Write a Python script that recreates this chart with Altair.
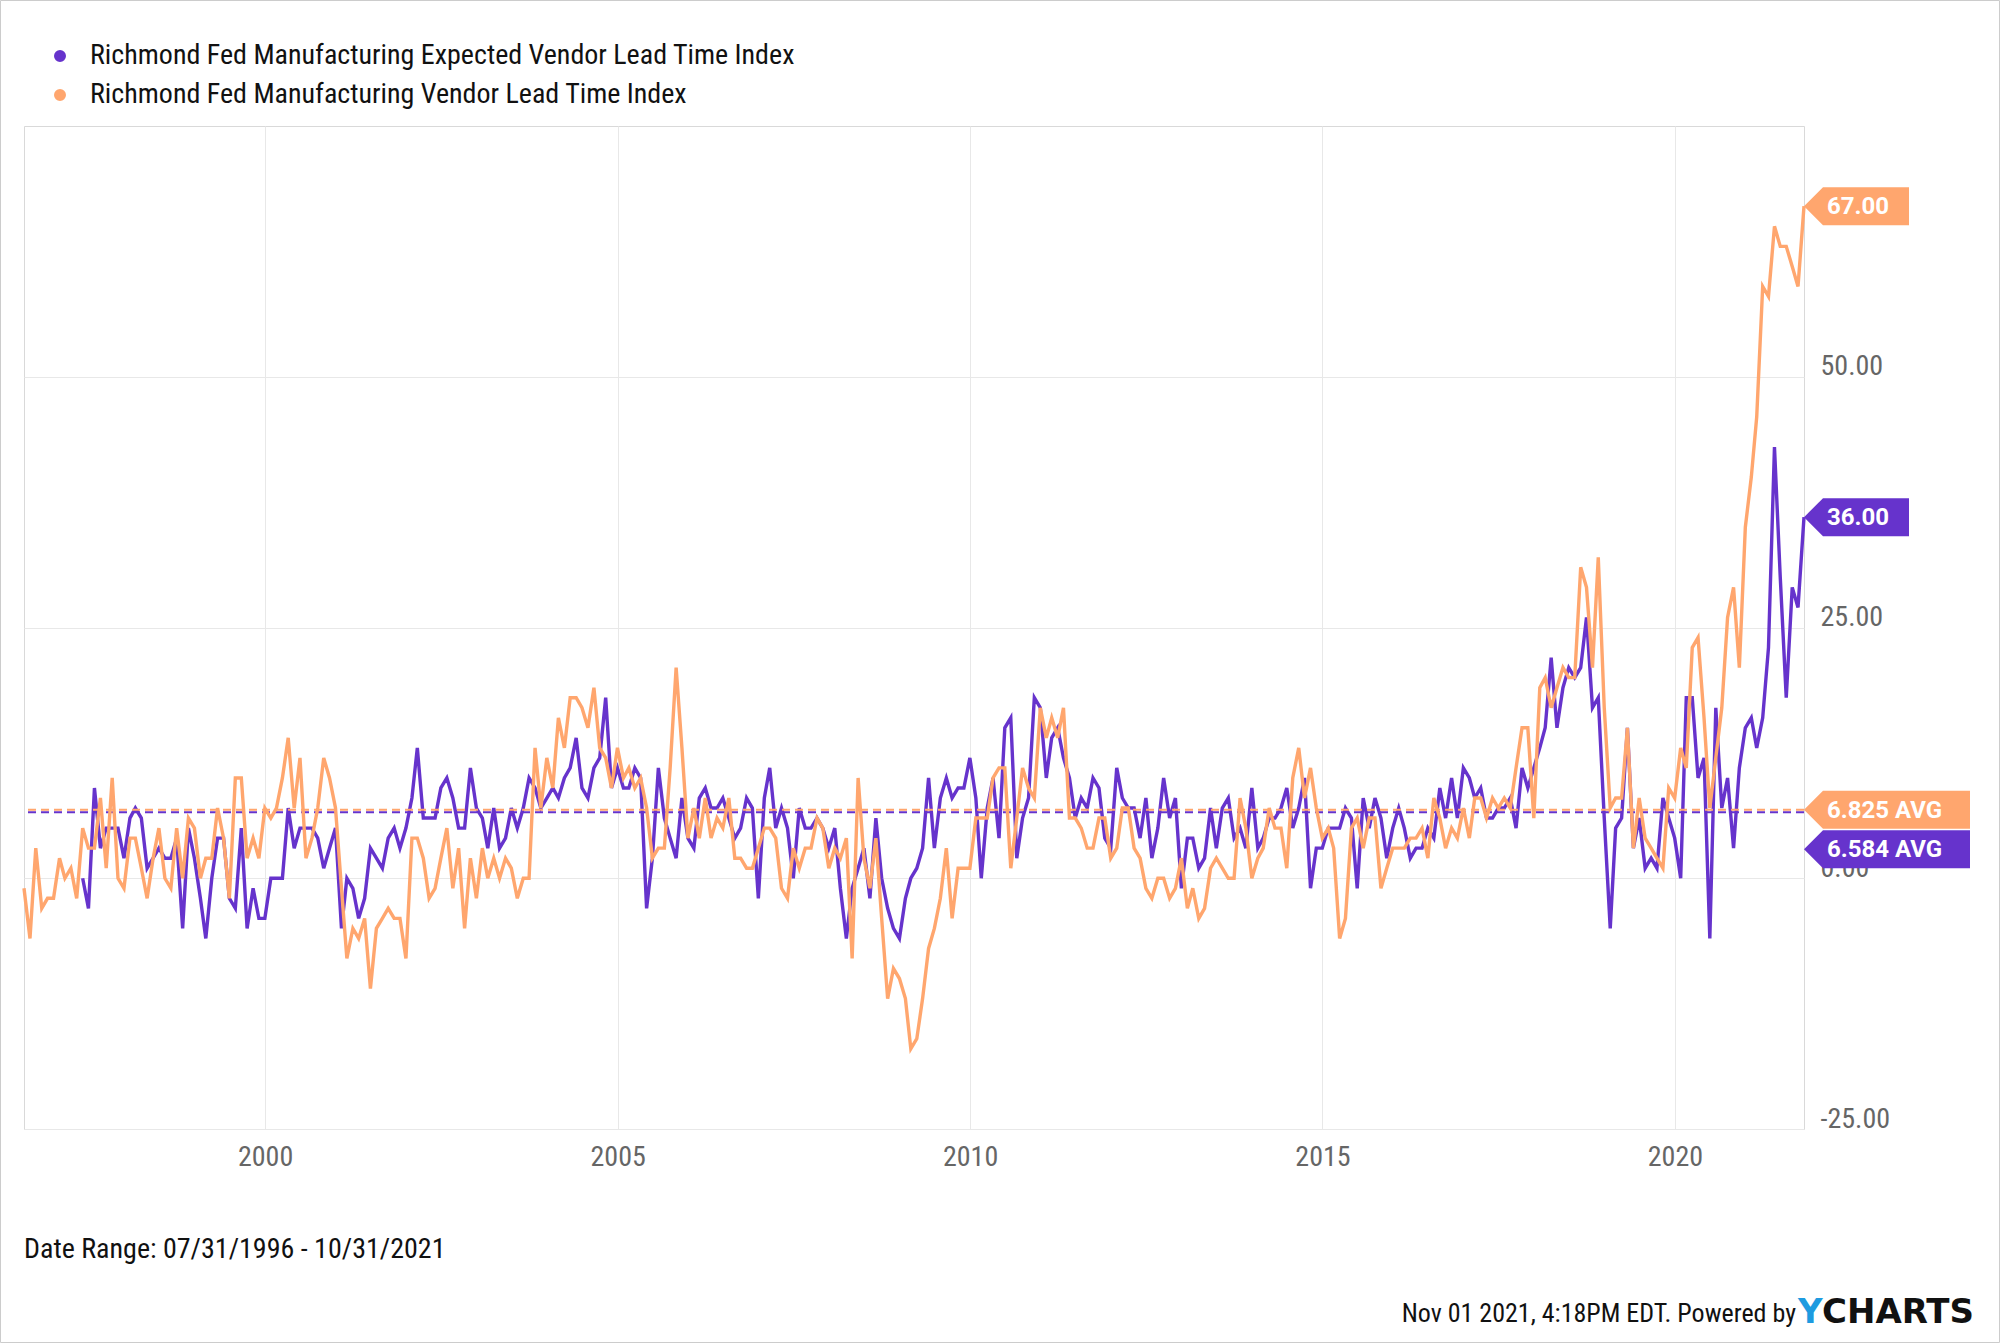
import altair as alt
import pandas as pd

EXP = "Richmond Fed Manufacturing Expected Vendor Lead Time Index"
VEN = "Richmond Fed Manufacturing Vendor Lead Time Index"
PURPLE = "#6633cc"
ORANGE = "#ffa66e"
COND = "Roboto Condensed, Liberation Sans Narrow, Arial Narrow, DejaVu Sans Condensed, sans-serif"

# monthly values, Jul 1996 .. Oct 2021
vendor_lead_time = [
    -1, -6, 3, -3, -2, -2, 2, 0, 1, -2, 5, 3,
    3, 8, 1, 10, 0, -1, 4, 4, 1, -2, 2, 5,
    0, -1, 5, 0, 6, 5, 0, 2, 2, 7, 4, -2,
    10, 10, 2, 4, 2, 7, 6, 7, 10, 14, 7, 12,
    2, 4, 7, 12, 10, 7, -1, -8, -5, -6, -4, -11,
    -5, -4, -3, -4, -4, -8, 4, 4, 2, -2, -1, 2,
    5, -1, 3, -5, 2, -2, 3, 0, 2, 0, 2, 1,
    -2, 0, 0, 13, 7, 12, 9, 16, 13, 18, 18, 17,
    15, 19, 13, 12, 9, 13, 10, 11, 9, 10, 7, 2,
    3, 3, 11, 21, 13, 4, 7, 4, 8, 4, 6, 5,
    8, 2, 2, 1, 1, 3, 5, 5, 4, -1, -2, 3,
    1, 3, 3, 6, 5, 1, 3, 2, 4, -8, 10, 2,
    -1, 4, -4, -12, -9, -10, -12, -17, -16, -12, -7, -5,
    -2, 3, -4, 1, 1, 1, 6, 6, 6, 10, 11, 11,
    1, 6, 11, 9, 8, 17, 14, 16, 14, 17, 6, 6,
    5, 3, 3, 6, 6, 2, 3, 7, 7, 3, 2, -1,
    -2, 0, 0, -2, -1, 2, -3, -1, -4, -3, 1, 2,
    1, 0, 0, 8, 5, 0, 2, 3, 7, 5, 5, 1,
    10, 13, 8, 11, 7, 4, 5, 3, -6, -4, 5, 6,
    3, 6, 6, -1, 1, 3, 3, 3, 4, 4, 5, 2,
    8, 6, 3, 5, 4, 7, 4, 8, 8, 6, 8, 7,
    8, 7, 11, 15, 15, 6, 19, 20, 17, 19, 21, 20,
    20, 31, 29, 21, 32, 17, 7, 8, 8, 15, 3, 8,
    4, 3, 2, 1, 9, 8, 13, 11, 23, 24, 16, 7,
    12, 17, 26, 29, 21, 35, 40, 46, 59, 58, 65, 63,
    63, 61, 59, 67,
]

# monthly values, May 1997 .. Oct 2021
expected_lead_time = [
    0, -3,
    9, 3, 5, 5, 5, 2, 6, 7, 6, 1, 2, 3,
    2, 2, 4, -5, 5, 2, -2, -6, 0, 4, 4, -2,
    -3, 5, -5, -1, -4, -4, 0, 0, 0, 7, 3, 5,
    5, 5, 4, 1, 3, 5, -5, 0, -1, -4, -2, 3,
    2, 1, 4, 5, 3, 5, 8, 13, 6, 6, 6, 9,
    10, 8, 5, 5, 11, 7, 6, 3, 7, 3, 4, 7,
    5, 7, 10, 9, 7, 8, 9, 8, 10, 11, 14, 9,
    8, 11, 12, 18, 9, 11, 9, 9, 11, 10, -3, 2,
    11, 6, 4, 2, 8, 4, 3, 8, 9, 7, 7, 8,
    6, 4, 5, 8, 7, -2, 8, 11, 5, 7, 5, 0,
    7, 5, 5, 6, 5, 3, 5, -1, -6, -1, 1, 3,
    -2, 6, 0, -3, -5, -6, -2, 0, 1, 3, 10, 3,
    8, 10, 8, 9, 9, 12, 8, 0, 7, 10, 4, 15,
    16, 2, 6, 8, 18, 17, 10, 14, 15, 12, 10, 6,
    8, 7, 10, 9, 4, 3, 11, 8, 7, 7, 4, 8,
    2, 5, 10, 6, 8, -1, 4, 4, 1, 2, 7, 3,
    7, 8, 4, 5, 3, 9, 3, 4, 6, 6, 7, 9,
    5, 7, 10, -1, 3, 3, 5, 5, 5, 7, 6, -1,
    8, 5, 8, 6, 2, 5, 7, 5, 2, 3, 3, 5,
    4, 9, 6, 10, 6, 11, 10, 8, 9, 6, 6, 7,
    7, 8, 5, 11, 9, 11, 13, 15, 22, 15, 19, 21,
    20, 21, 26, 17, 18, 6, -5, 5, 6, 15, 3, 6,
    1, 2, 1, 8, 6, 4, 0, 18, 18, 10, 12, -6,
    17, 7, 10, 3, 11, 15, 16, 13, 16, 23, 43, 30,
    18, 29, 27, 36,
]

series_names = [EXP, VEN]
series_colors = [PURPLE, ORANGE]
avg_values = [6.584, 6.825]  # expected, vendor
year_ticks = [2000, 2005, 2010, 2015, 2020]
y_ticks = [-25, 0, 25, 50]
date_range_text = "Date Range: 07/31/1996 - 10/31/2021"
footer_text = "Nov 01 2021, 4:18PM EDT. Powered by"

W, H = 1780, 1003

dates = pd.date_range("1996-07-31", periods=len(vendor_lead_time), freq=pd.offsets.MonthEnd())
off = len(vendor_lead_time) - len(expected_lead_time)
exp_df = pd.DataFrame({"date": dates[off:], "value": expected_lead_time, "series": EXP})
ven_df = pd.DataFrame({"date": dates, "value": vendor_lead_time, "series": VEN})

one = pd.DataFrame({"a": [0]})

color_scale = alt.Scale(domain=series_names, range=series_colors)

x_enc = alt.X(
    "date:T",
    scale=alt.Scale(domain=[alt.DateTime(year=1996, month=7, date=31),
                            alt.DateTime(year=2021, month=10, date=31)]),
    axis=alt.Axis(values=[alt.DateTime(year=y, month=1, date=1) for y in year_ticks],
                  format="%Y", title=None, labelPadding=14, labelFontSize=28,
                  labelFont=COND, labelColor="#666666", grid=True, gridColor="#e8e8e8",
                  domain=False, ticks=False),
)
y_enc = alt.Y(
    "value:Q",
    scale=alt.Scale(domain=[-25, 75], nice=False, zero=False),
    axis=alt.Axis(values=y_ticks, orient="right", title=None,
                  labelExpr="datum.value < 0 ? '-' + format(-datum.value, '.2f') : format(datum.value, '.2f')",
                  labelAlign="left", labelPadding=16, labelBaseline="alphabetic",
                  labelOffset=-2, labelFontSize=28, labelFont=COND,
                  labelColor="#666666", grid=True, gridColor="#e8e8e8",
                  domain=False, ticks=False),
)

# legend dot: concentric rings that the symbol stroke fills into a solid disc
def _ring(r):
    return f"M {-r} 0 A {r} {r} 0 1 0 {r} 0 A {r} {r} 0 1 0 {-r} 0 Z"

DOT = " ".join(_ring(r) for r in [1, 0.8, 0.6, 0.4, 0.2])

legend = alt.Legend(
    title=None, orient="none", legendX=22, legendY=-84, symbolType=DOT,
    symbolSize=100, symbolStrokeWidth=2, labelFontSize=28, labelFont=COND,
    labelColor="#111111", labelOffset=16, rowPadding=11, padding=0,
    labelLimit=1000,
)

purple_line = alt.Chart(exp_df).mark_line(strokeWidth=3.4).encode(
    x=x_enc, y=y_enc,
    color=alt.Color("series:N", scale=color_scale, legend=legend),
)
orange_line = alt.Chart(ven_df).mark_line(strokeWidth=3.4).encode(
    x="date:T", y="value:Q",
    color=alt.Color("series:N", scale=color_scale, legend=legend),
)

TAG_SHORT = "M -1 0 L -0.638 -0.362 L 1 -0.362 L 1 0.362 L -0.638 0.362 Z"
TAG_LONG = "M -1 0 L -0.771 -0.229 L 1 -0.229 L 1 0.229 L -0.771 0.229 Z"


def avg_rule(value, color):
    return alt.Chart(pd.DataFrame({"value": [value]})).mark_rule(
        strokeDash=[8, 5], strokeWidth=2, color=color).encode(y="value:Q")


def tag(value, label, color, shape, width, y_off=0):
    base = alt.Chart(pd.DataFrame({"value": [value], "label": [label]}))
    box = base.mark_point(shape=shape, size=width * width, filled=True, opacity=1,
                          strokeWidth=0, color=color, yOffset=y_off).encode(
        x=alt.value(W + width / 2), y="value:Q",
    )
    txt = base.mark_text(align="left", baseline="middle", font="Roboto",
                         fontWeight="bold", fontSize=24, color="white",
                         yOffset=y_off + 1).encode(
        x=alt.value(W + 23), y="value:Q", text="label:N",
    )
    return box + txt


rules = avg_rule(avg_values[1], ORANGE) + avg_rule(avg_values[0], PURPLE)
tags = (
    tag(vendor_lead_time[-1], f"{vendor_lead_time[-1]:.2f}", ORANGE, TAG_SHORT, 105)
    + tag(expected_lead_time[-1], f"{expected_lead_time[-1]:.2f}", PURPLE, TAG_SHORT, 105)
    + tag(avg_values[1], f"{avg_values[1]:.3f} AVG", ORANGE, TAG_LONG, 166)
    + tag(avg_values[0], f"{avg_values[0]:.3f} AVG", PURPLE, TAG_LONG, 166, 37)
)

border = alt.Chart(one).mark_rect(fill="transparent", stroke="#cccccc", strokeWidth=1).encode(
    x=alt.value(-23.5), x2=alt.value(2000 - 24 - 0.5),
    y=alt.value(-125.5), y2=alt.value(1343 - 126 - 0.5),
)
date_txt = alt.Chart(one).mark_text(align="left", baseline="middle", font=COND,
                                    fontSize=28, color="#111111").encode(
    x=alt.value(0), y=alt.value(1250 - 126), text=alt.value(date_range_text))
foot_txt = alt.Chart(one).mark_text(align="right", baseline="middle", font=COND,
                                    fontSize=26, color="#111111").encode(
    x=alt.value(1796 - 24), y=alt.value(1314 - 126), text=alt.value(footer_text))
logo_y = alt.Chart(one).mark_text(align="left", baseline="middle", font="DejaVu Sans",
                                  fontWeight="bold", fontSize=34, color="#1e9be0").encode(
    x=alt.value(1798 - 24), y=alt.value(1313 - 126), text=alt.value("Y"))
logo_c = alt.Chart(one).mark_text(align="left", baseline="middle", font="DejaVu Sans",
                                  fontWeight="bold", fontSize=34, color="#111111").encode(
    x=alt.value(1822 - 24), y=alt.value(1313 - 126), text=alt.value("CHARTS"))

chart = alt.layer(
    purple_line, border, rules, orange_line, tags,
    date_txt, foot_txt, logo_y, logo_c,
).properties(
    width=W, height=H,
    autosize=alt.AutoSizeParams(type="none"),
    padding={"left": 24, "top": 126, "right": 2000 - 24 - W, "bottom": 1343 - 126 - H},
    background="white",
).configure_view(stroke="#d9d9d9", strokeWidth=1)

chart.save("out.html", embed_options={"renderer": "svg", "actions": False})
